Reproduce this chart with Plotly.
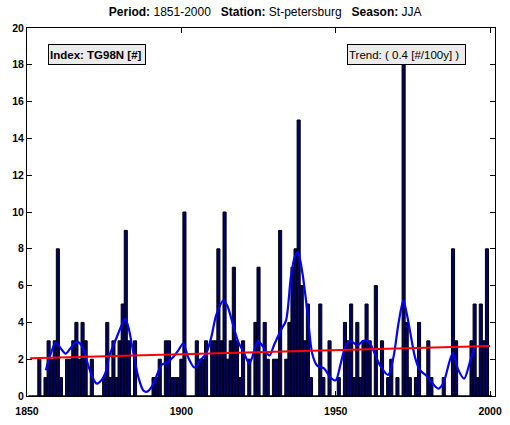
import plotly.graph_objects as go

# yearly counts of TG98N, summer (JJA), St-petersburg
years = list(range(1851, 2001))
counts = [
    0, 0, 0, 2, 0, 1, 3, 2, 3, 8,        # 1851-1860
    1, 0, 2, 2, 3, 4, 2, 4, 3, 0,        # 1861-1870
    2, 0, 0, 0, 1, 4, 1, 3, 1, 3,        # 1871-1880
    5, 9, 3, 0, 3, 0, 0, 0, 0, 0,        # 1881-1890
    1, 1, 2, 0, 3, 3, 1, 1, 1, 2,        # 1891-1900
    10, 0, 0, 0, 3, 2, 2, 3, 0, 3,       # 1901-1910
    3, 8, 3, 10, 2, 3, 7, 3, 1, 3,       # 1911-1920
    0, 2, 0, 4, 7, 0, 4, 2, 0, 2,        # 1921-1930
    2, 9, 0, 2, 4, 7, 8, 15, 6, 3,       # 1931-1940
    5, 1, 0, 0, 5, 1, 0, 3, 0, 0,        # 1941-1950
    1, 0, 4, 3, 5, 1, 4, 1, 3, 5,        # 1951-1960
    3, 0, 6, 0, 3, 0, 1, 2, 0, 1,        # 1961-1970
    0, 18, 4, 1, 0, 1, 4, 0, 0, 3,       # 1971-1980
    1, 0, 0, 0, 1, 0, 0, 8, 3, 0,        # 1981-1990
    0, 0, 0, 3, 5, 1, 5, 3, 8, 0,        # 1991-2000
]

# smoothed curve
smooth_years = [1856.1, 1857.7, 1859.3, 1860.9, 1862.5, 1864.1, 1866.2, 1867.8,
                1869.4, 1871.0, 1872.6, 1874.3, 1875.9, 1876.5, 1878.6, 1880.8,
                1881.8, 1882.9, 1884.5, 1886.1, 1887.7, 1888.8, 1890.4, 1892.0,
                1893.6, 1895.2, 1897.3, 1898.9, 1900.6, 1902.2, 1904.2, 1905.9,
                1908.0, 1909.7, 1911.3, 1913.7, 1915.0, 1916.7, 1918.3, 1920.4,
                1922.0, 1923.7, 1924.8, 1926.4, 1928.5, 1930.1, 1932.3, 1933.9,
                1935.5, 1936.8, 1937.8, 1939.2, 1940.8, 1942.4, 1944.0, 1946.2,
                1948.3, 1950.0, 1951.6, 1953.2, 1954.8, 1957.0, 1959.0, 1960.7,
                1962.3, 1964.4, 1967.0, 1968.7, 1970.3, 1971.9, 1973.1, 1974.1,
                1975.7, 1977.3, 1979.4, 1981.0, 1983.2, 1984.8, 1986.9, 1988.0,
                1989.5, 1991.6, 1993.3, 1994.8]
smooth_vals = [1.4, 2.3, 2.9, 2.6, 2.3, 2.6, 2.95, 2.7,
               1.9, 1.1, 0.67, 0.9, 1.5, 2.1, 3.0, 3.9,
               4.2, 3.7, 2.3, 1.0, 0.3, 0.23, 0.5, 1.1,
               1.7, 1.8, 2.1, 2.45, 2.85, 2.1, 1.55, 1.9,
               2.3, 3.2, 4.4, 5.2, 4.85, 3.9, 3.0, 2.3,
               1.75, 2.5, 3.0, 2.7, 2.2, 2.8, 3.6, 4.1,
               6.5, 7.6, 7.8, 6.7, 4.6, 2.3, 1.65, 1.5,
               1.0, 0.85, 1.75, 2.7, 3.0, 2.75, 3.0, 2.95,
               2.45, 1.65, 1.15, 2.1, 3.9, 5.2, 4.4, 3.5,
               2.1, 1.4, 1.1, 0.76, 0.4, 0.67, 1.9, 2.35,
               1.5, 0.94, 1.75, 2.6]

# linear trend end points
trend_years = [1851, 2000]
trend_vals = [2.05, 2.72]

x_ticks = [1850, 1900, 1950, 2000]
y_ticks = list(range(0, 21, 2))

FONT = "Liberation Sans, Arial, Helvetica, sans-serif"
SEP = "\u00a0\u00a0\u00a0"

fig = go.Figure()
fig.add_trace(go.Bar(
    x=years, y=counts, width=1,
    marker=dict(color="#000066", line=dict(color="black", width=1)),
))
fig.add_trace(go.Scatter(
    x=smooth_years, y=smooth_vals, mode="lines",
    line=dict(color="#0000ff", width=2.2, shape="spline", smoothing=0.8),
))
fig.add_trace(go.Scatter(
    x=trend_years, y=trend_vals, mode="lines",
    line=dict(color="#ff0000", width=2),
))

axis_style = dict(
    showgrid=False, zeroline=False, showline=True, linecolor="black",
    linewidth=1, mirror="ticks", ticks="inside", ticklen=5,
    tickcolor="black",
    tickfont=dict(family=FONT, size=10.5, color="black", weight="bold"),
)

fig.update_layout(
    width=510, height=425,
    margin=dict(l=27, r=8, t=28, b=22),
    paper_bgcolor="white", plot_bgcolor="white",
    showlegend=False,
    font=dict(family=FONT, color="black"),
    title=dict(
        text="<b>Period:</b> 1851-2000" + SEP + "<b>Station:</b> St-petersburg"
             + SEP + "<b>Season:</b> JJA",
        x=0.52, xanchor="center", y=0.972, yanchor="middle",
        font=dict(family=FONT, size=12, color="black"),
    ),
    xaxis=dict(range=[1850, 2001.6], tickvals=x_ticks, ticklabelstandoff=5,
               **axis_style),
    yaxis=dict(range=[0, 20], tickvals=y_ticks, **axis_style),
    annotations=[
        dict(text="<b>Index: TG98N [#]</b>", xref="paper", yref="paper",
             x=0.0448, y=0.9557, xanchor="left", yanchor="top", showarrow=False,
             width=94, height=17, align="left",
             font=dict(family=FONT, size=11.5, color="black"),
             bgcolor="#ebebeb", bordercolor="black", borderwidth=1, borderpad=1),
        dict(text="Trend: ( 0.4 [#/100y] )", xref="paper", yref="paper",
             x=0.684, y=0.9565, xanchor="left", yanchor="top", showarrow=False,
             width=115, height=17, align="left",
             font=dict(family=FONT, size=11.5, color="black"),
             bgcolor="#ebebeb", bordercolor="black", borderwidth=1, borderpad=1),
    ],
)

fig.write_html("out.html", config={"displayModeBar": False},
               post_script="document.body.style.margin='0';")
